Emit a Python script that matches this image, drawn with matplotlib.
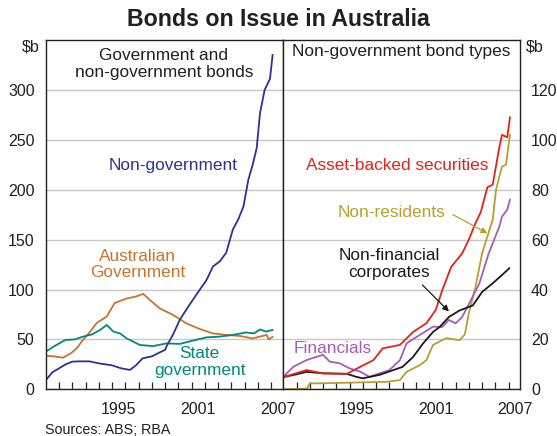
# -*- coding: utf-8 -*-
"""
Bonds on Issue in Australia: two panels side by side.
Left: government and non-government bonds ($b). Right: non-government bond types ($b).
Output: out.png
"""
import matplotlib
matplotlib.use("Agg")
import matplotlib.pyplot as plt

plt.rcParams["font.family"] = ["Liberation Sans", "DejaVu Sans"]

# ----------------------------------------------------------------------
# Data ($b)
# ----------------------------------------------------------------------
nongov_years = [1990.0, 1990.5, 1991.0, 1991.5, 1992.0, 1992.5, 1993.3, 1994.0, 1995.0,
                1995.7, 1996.35, 1996.8, 1997.3, 1998.0, 1998.6, 1999.0, 1999.1, 1999.6,
                2000.1, 2000.8, 2001.6, 2002.1, 2002.6, 2003.1, 2003.6, 2004.1, 2004.5,
                2004.9, 2005.27, 2005.6, 2005.9, 2006.15, 2006.5, 2006.9, 2007.1]
nongov_vals = [9, 17, 21, 25, 27.7, 28, 28, 26, 24, 21, 19.4, 24, 31, 33, 37, 39.5, 43, 55,
               69.5, 84, 99.6, 109, 123, 128, 136.7, 160, 170, 183, 210, 225, 241.7, 276.8,
               300, 311, 335]

ausgov_years = [1990.0, 1990.6, 1991.3, 1991.9, 1992.4, 1992.8, 1993.3, 1993.85, 1994.6,
                1995.2, 1996.1, 1996.8, 1997.35, 1997.85, 1998.6, 1999.6, 2000.6, 2001.6,
                2002.6, 2003.6, 2004.6, 2005.6, 2006.2, 2006.65, 2006.8, 2007.1]
ausgov_vals = [33.7, 33, 31.7, 36, 42, 49.5, 57, 66.5, 73, 86.5, 91, 93, 95.6, 89.5, 81,
               74.5, 66, 60.5, 56, 54.5, 53.5, 51, 53, 54.5, 50, 52.5]

stategov_years = [1990.0, 1990.8, 1991.5, 1992.2, 1992.8, 1993.5, 1994.1, 1994.6, 1995.1,
                  1995.6, 1996.1, 1997.1, 1998.1, 1999.1, 2000.1, 2001.1, 2002.1, 2003.1,
                  2004.1, 2005.1, 2005.7, 2006.15, 2006.6, 2007.1]
stategov_vals = [37.7, 44.4, 49.5, 50, 52.8, 55, 59.5, 64.5, 57.8, 56, 51, 44.4, 43.3, 46,
                 45.5, 48.8, 52, 52.8, 54.5, 57, 56, 60, 57.8, 59.5]

abs_years = [1990.1, 1991.0, 1991.75, 1993.0, 1994.8, 1995.8, 1996.8, 1997.5, 1998.8, 1999.8,
             2000.8, 2001.5, 2002.0, 2002.66, 2003.5, 2004.0, 2004.5, 2004.9, 2005.4,
             2005.8, 2006.3, 2006.5, 2006.9, 2007.1]
abs_vals = [5, 6.5, 7.7, 6.4, 6.2, 9, 11.7, 16.4, 17.8, 23, 26.5, 31.8, 39.8, 49, 54.5, 60,
            66.6, 71, 81, 82, 97, 102, 101, 109]

nonres_years = [1990.0, 1991.8, 1992.0, 1992.76, 1997.8, 1998.8, 1999.3, 2000.3, 2000.8,
                2001.3, 2002.3, 2003.3, 2003.7, 2004.0, 2004.5, 2005.0, 2005.8, 2006.05,
                2006.5, 2006.8, 2007.1]
nonres_vals = [0, 0.3, 2.4, 2.4, 3, 3.7, 7, 9.7, 11.7, 17.8, 20.5, 19.7, 22, 30.5, 41,
               54.5, 68, 80, 89.3, 90, 102]

fin_years = [1990.0, 1990.75, 1991.75, 1992.5, 1993.0, 1993.5, 1994.26, 1995.0, 1995.8,
             1996.5, 1997.27, 1998.0, 1998.8, 1999.3, 2000.3, 2001.3, 2002.0, 2002.5,
             2003.0, 2003.5, 2004.16, 2004.8, 2005.5, 2006.3, 2006.5, 2006.9, 2007.1]
fin_vals = [5, 9, 11.7, 13, 13.8, 11.1, 10.4, 8.4, 7.1, 5, 6.4, 7.7, 11.7, 18.4, 21.8, 25.1,
            25, 27.8, 26.4, 29, 35.8, 42.5, 54.5, 65.2, 69.2, 72, 76]

nfc_years = [1990.1, 1991.0, 1991.75, 1993.0, 1994.8, 1995.5, 1996.0, 1997.27, 1998.3,
             1999.0, 1999.8, 2000.55, 2001.3, 2001.8, 2002.5, 2003.3, 2004.3, 2005.0,
             2005.8, 2006.5, 2007.05]
nfc_vals = [5, 6, 7, 6.4, 6.2, 5, 4.4, 5.8, 7.7, 9, 13, 18.4, 23, 25, 29, 31.6, 33.6, 39,
            42.5, 45.8, 48.5]

year_labels = [1995, 2001, 2007]
left_yticks = [0, 50, 100, 150, 200, 250, 300]
right_yticks = [0, 20, 40, 60, 80, 100, 120]

# colours
NAVY = "#2E3192"
ORANGE = "#C8742E"
TEAL = "#00897A"
RED = "#E2231A"
OLIVE = "#B8A02E"
PURPLE = "#A65CB8"
BLACK = "#1A1A1A"
TXT = "#231F20"
GRID = "#C8C8C8"

XMIN, XMAX = 1990.0, 2007.86
FS = 12.4  # annotation font size
LS = 1.15

fig = plt.figure(figsize=(5.57, 4.36), dpi=100)
fig.text(0.5, 0.955, "Bonds on Issue in Australia", ha="center", va="center",
         fontsize=16.7, fontweight="bold", color=TXT)

axL = fig.add_axes([45.7 / 557, 1 - 389.3 / 436, 237.0 / 557, 349.3 / 436])
axR = fig.add_axes([283.3 / 557, 1 - 389.3 / 436, 236.7 / 557, 349.3 / 436])


def style_axis(ax, ymax, yticks, side):
    ax.set_xlim(XMIN, XMAX)
    ax.set_ylim(0, ymax)
    ax.set_yticks(yticks)
    ax.set_yticklabels([str(t) for t in yticks], fontsize=11.5, color=TXT)
    ax.yaxis.set_ticks_position(side)
    ax.tick_params(axis="y", length=0, pad=8)
    ax.grid(axis="y", color=GRID, lw=1.0)
    ax.set_axisbelow(True)
    ax.set_xticks(range(1991, 2008))
    ax.set_xticklabels([])
    ax.tick_params(axis="x", direction="in", length=5, width=0.9, color=TXT)
    for s in ax.spines.values():
        s.set_color(TXT)
        s.set_linewidth(1.0)
    for yr in year_labels:
        ax.text(yr + 0.5, -0.035 * ymax, str(yr), ha="center", va="top",
                fontsize=11.5, color=TXT, clip_on=False)
    xb = XMIN - 0.45 if side == "left" else XMAX + 0.45
    ax.text(xb, ymax * 0.98, "$b", ha="right" if side == "left" else "left",
            va="center", fontsize=11.5, color=TXT, clip_on=False)


style_axis(axL, 350, left_yticks, "left")
style_axis(axR, 140, right_yticks, "right")

# left panel
axL.plot(ausgov_years, ausgov_vals, color=ORANGE, lw=1.3)
axL.plot(stategov_years, stategov_vals, color=TEAL, lw=1.3)
axL.plot(nongov_years, nongov_vals, color=NAVY, lw=1.3)

axL.text(1998.9, 326, "Government and\nnon-government bonds", ha="center", va="center",
         fontsize=FS, color=TXT, linespacing=LS)
axL.text(1999.6, 224, "Non-government", ha="center", va="center", fontsize=FS, color=NAVY)
axL.text(1996.9, 125, "Australian\nGovernment", ha="center", va="center", fontsize=FS,
         color=ORANGE, linespacing=LS)
axL.text(2001.6, 27, "State\ngovernment", ha="center", va="center", fontsize=FS,
         color=TEAL, linespacing=LS)

# right panel
axR.plot(nonres_years, nonres_vals, color=OLIVE, lw=1.3)
axR.plot(fin_years, fin_vals, color=PURPLE, lw=1.3)
axR.plot(nfc_years, nfc_vals, color=BLACK, lw=1.3)
axR.plot(abs_years, abs_vals, color=RED, lw=1.3)

axR.text(1998.9, 135.3, "Non-government bond types", ha="center", va="center",
         fontsize=FS, color=TXT)
axR.text(1998.6, 89.6, "Asset-backed securities", ha="center", va="center",
         fontsize=FS, color=RED)
axR.text(1998.2, 70.9, "Non-residents", ha="center", va="center", fontsize=FS, color=OLIVE)
axR.text(1998.0, 50.3, "Non-financial\ncorporates", ha="center", va="center",
         fontsize=FS, color=BLACK, linespacing=LS)
axR.text(1993.7, 16.5, "Financials", ha="center", va="center", fontsize=FS, color=PURPLE)

axR.annotate("", xy=(2005.4, 62.5), xytext=(2002.8, 70.0),
             arrowprops=dict(arrowstyle="-|>", color=OLIVE, lw=0.9,
                             mutation_scale=9, shrinkA=0, shrinkB=0))
axR.annotate("", xy=(2002.5, 31.2), xytext=(2000.5, 41.8),
             arrowprops=dict(arrowstyle="-|>", color=BLACK, lw=0.9,
                             mutation_scale=9, shrinkA=0, shrinkB=0))

fig.text(45 / 557, 1 - 430 / 436, "Sources: ABS; RBA", ha="left", va="center",
         fontsize=10.3, color=TXT)

fig.savefig("out.png", dpi=100)
plt.close(fig)
